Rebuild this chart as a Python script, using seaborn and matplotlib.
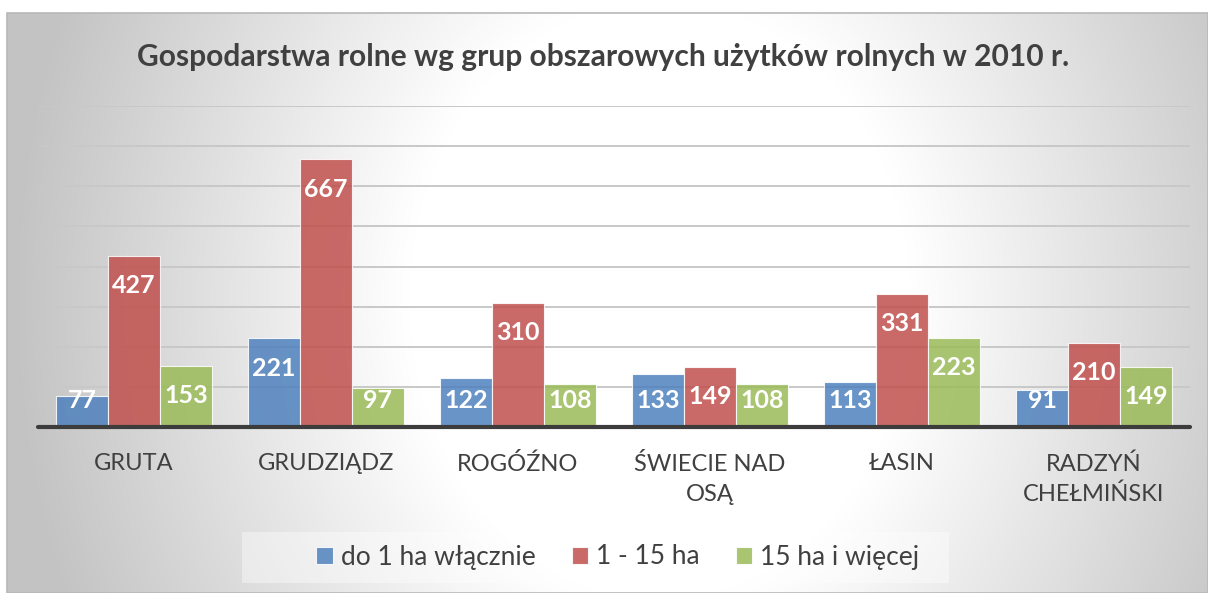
import numpy as np
import pandas as pd
import matplotlib
matplotlib.use("Agg")
import matplotlib.pyplot as plt
from matplotlib.patches import Rectangle
import seaborn as sns

# ---- data ----
gminy = ["GRUTA", "GRUDZIĄDZ", "ROGÓŹNO", "ŚWIECIE NAD\nOSĄ", "ŁASIN", "RADZYŃ\nCHEŁMIŃSKI"]
grupy = ["do 1 ha włącznie", "1 - 15 ha", "15 ha i więcej"]
do_1_ha = [77, 221, 122, 133, 113, 91]
od_1_do_15_ha = [427, 667, 310, 149, 331, 210]
pow_15_ha = [153, 97, 108, 108, 223, 149]
title = "Gospodarstwa rolne wg grup obszarowych użytków rolnych w 2010 r."
colors = ["#4F81BD", "#C0504D", "#9BBB59"]

series = [do_1_ha, od_1_do_15_ha, pow_15_ha]
rows = []
for g, vals in zip(grupy, series):
    for c, v in zip(gminy, vals):
        rows.append({"gmina": c, "grupa": g, "wartosc": v})
df = pd.DataFrame(rows)

sns.set_theme(style="white")
plt.rcParams["font.family"] = ["Lato", "DejaVu Sans"]

W, H = 1208, 593
fig = plt.figure(figsize=(W / 100, H / 100), dpi=100, facecolor="white")

def fx(px):
    return px / W

def fy(py):
    return 1 - py / H

# background chart area with radial gradient
bx0, by0, bx1, by1 = 7, 13, 1208, 593
bg = fig.add_axes([fx(bx0), fy(by1), fx(bx1 - bx0), (by1 - by0) / H], zorder=-5)
xx, yy = np.meshgrid(np.linspace(bx0, bx1, 600), np.linspace(by0, by1, 300))
r = np.sqrt(((xx - 660) / 600) ** 2 + ((yy - 300) / 720) ** 2)
t = np.clip((r - 0.42) / (1.08 - 0.42), 0, 1)
img = 1 - (1 - 0.765) * t
bg.imshow(np.dstack([img, img, img]), aspect="auto", extent=[0, 1, 0, 1], interpolation="bilinear")
bg.set_axis_off()
fig.add_artist(Rectangle((fx(bx0), fy(by1)), fx(bx1 - bx0), (by1 - by0) / H,
                         transform=fig.transFigure, fill=False, edgecolor="#b8b8b8", lw=1.2, zorder=-4))

# main axes
ax0, ay0, ax1, ay1 = 38, 106, 1190, 427
ax = fig.add_axes([fx(ax0), fy(ay1), fx(ax1 - ax0), (ay1 - ay0) / H])
ax.patch.set_alpha(0)

sns.barplot(data=df, x="gmina", y="wartosc", hue="grupa", palette=colors, saturation=1,
            width=0.81, edgecolor=(1, 1, 1, 0.5), linewidth=0.8, alpha=0.85, ax=ax, zorder=3)

ax.set_ylim(0, 800)
ax.set_xlim(-0.5, len(gminy) - 0.5)
ax.set_yticks(np.arange(100, 801, 100))
ax.yaxis.grid(True, color="#c8c8c8", lw=1.4, zorder=0)
ax.set_axisbelow(True)
ax.tick_params(axis="y", left=False, labelleft=False)
ax.tick_params(axis="x", length=0, pad=19, labelsize=17, labelcolor="#404040")
for lab in ax.get_xticklabels():
    lab.set_linespacing(1.5)
ax.set_xlabel("")
ax.set_ylabel("")
for s in ax.spines.values():
    s.set_visible(False)
ax.axhline(0, color="#3c3c3c", lw=3, zorder=5, clip_on=False)

for cont in ax.containers:
    for bar in cont:
        h = bar.get_height()
        ax.text(bar.get_x() + bar.get_width() / 2, max(h - 74, 67), f"{int(round(h))}",
                ha="center", va="center", color="white", fontsize=18, fontweight="bold", zorder=6)

# legend
handles, labels = ax.get_legend_handles_labels()
ax.get_legend().remove()
fig.add_artist(Rectangle((fx(242), fy(583)), fx(949 - 242), (583 - 532) / H,
                         transform=fig.transFigure, facecolor="white", alpha=0.4,
                         edgecolor="none", zorder=1))
leg = fig.legend(handles, labels, loc="center", bbox_to_anchor=(fx(618), fy(557)), ncol=3,
                 frameon=False, fontsize=19, handlelength=0.62, handleheight=0.62,
                 handletextpad=0.32, columnspacing=1.35)
for txt in leg.get_texts():
    txt.set_color("#404040")

fig.text(fx(603), fy(57), title, ha="center", va="center", fontsize=21.6, fontweight="bold",
         color="#404040")

fig.savefig("out.png", dpi=100, facecolor="white")
